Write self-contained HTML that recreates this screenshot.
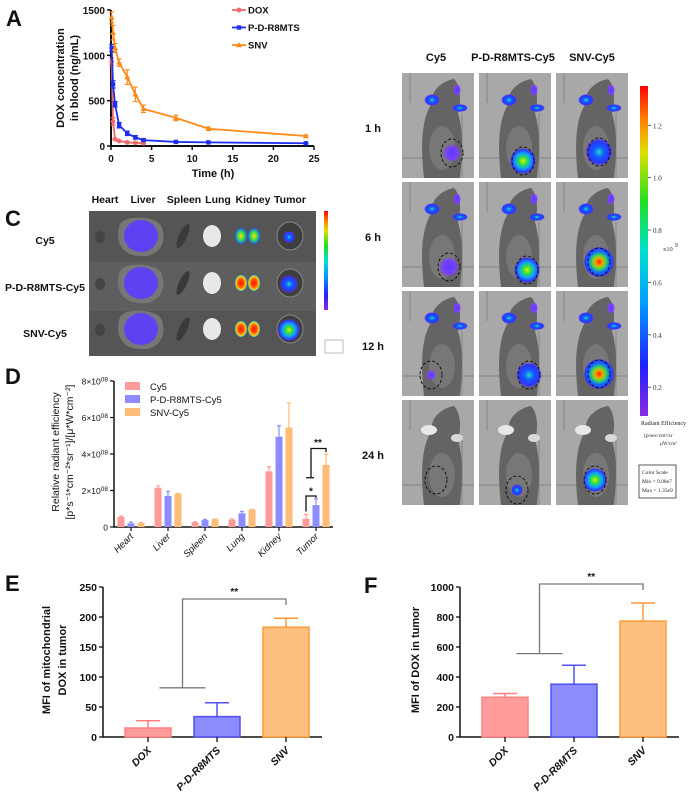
<!DOCTYPE html>
<html><head><meta charset="utf-8"><style>
body{margin:0;background:#fff}
svg{display:block;font-family:"Liberation Sans",Arial,sans-serif}
.t{font-weight:bold;fill:#111}
</style></head><body>
<svg id="fig" width="695" height="797" viewBox="0 0 695 797" xmlns="http://www.w3.org/2000/svg">
<defs>
<radialGradient id="gPur"><stop offset="0" stop-color="#5a3cff"/><stop offset="0.7" stop-color="#7a40ff"/><stop offset="1" stop-color="#8a40ff" stop-opacity="0"/></radialGradient>
<radialGradient id="gBlue"><stop offset="0" stop-color="#20e0c0"/><stop offset="0.35" stop-color="#1060ff"/><stop offset="0.8" stop-color="#3030ff"/><stop offset="1" stop-color="#7040ff" stop-opacity="0"/></radialGradient>
<radialGradient id="gGreen"><stop offset="0" stop-color="#e0f000"/><stop offset="0.3" stop-color="#30e040"/><stop offset="0.6" stop-color="#10a0ff"/><stop offset="0.9" stop-color="#3030ff"/><stop offset="1" stop-color="#7040ff" stop-opacity="0"/></radialGradient>
<radialGradient id="gHot"><stop offset="0" stop-color="#ff2000"/><stop offset="0.25" stop-color="#ffa000"/><stop offset="0.45" stop-color="#40e040"/><stop offset="0.7" stop-color="#1070ff"/><stop offset="0.95" stop-color="#3030ff"/><stop offset="1" stop-color="#7040ff" stop-opacity="0"/></radialGradient>
<radialGradient id="gKid"><stop offset="0" stop-color="#ffe000"/><stop offset="0.5" stop-color="#40e040"/><stop offset="1" stop-color="#1060ff"/></radialGradient>
<radialGradient id="gKid2"><stop offset="0" stop-color="#ff1000"/><stop offset="0.55" stop-color="#ff6000"/><stop offset="0.8" stop-color="#ffd000"/><stop offset="1" stop-color="#20c0ff"/></radialGradient>
<linearGradient id="cbar" x1="0" y1="1" x2="0" y2="0"><stop offset="0" stop-color="#8a2be2"/><stop offset="0.15" stop-color="#2020ff"/><stop offset="0.35" stop-color="#00a0ff"/><stop offset="0.5" stop-color="#00e0d0"/><stop offset="0.65" stop-color="#20e020"/><stop offset="0.8" stop-color="#e0e000"/><stop offset="0.9" stop-color="#ff8000"/><stop offset="1" stop-color="#ff0000"/></linearGradient>
</defs>

<text class="t" x="6" y="26" font-size="22">A</text>
<text class="t" x="508" y="108" font-size="22">B</text>
<text class="t" x="5" y="226" font-size="22">C</text>
<text class="t" x="5" y="384" font-size="22">D</text>
<text class="t" x="5" y="591" font-size="22">E</text>
<text class="t" x="364" y="593" font-size="22">F</text>

<g id="pA"></g>
<g id="pB"></g>
<g id="pC"></g>
<g id="pD"></g>
<g id="pE"></g>
<g id="pF"></g>
</svg>
<script>
// ===== Panel A data =====
const aTimesDox = [0.083, 0.25, 0.5, 1, 2, 3, 4];
const aDox = [930, 270, 75, 55, 40, 35, 30];
const aDoxErr = [40, 40, 10, 8, 6, 5, 5];
const aTimes = [0.083, 0.25, 0.5, 1, 2, 3, 4, 8, 12, 24];
const aPD = [1080, 680, 460, 230, 140, 95, 65, 45, 40, 30];
const aPDErr = [40, 40, 30, 30, 25, 20, 10, 8, 6, 5];
const aSNV = [1420, 1250, 1080, 920, 760, 570, 410, 310, 190, 110];
const aSNVErr = [60, 80, 50, 40, 80, 80, 40, 30, 20, 10];
const aXTicks = [0, 5, 10, 15, 20, 25];
const aYTicks = [0, 500, 1000, 1500];

// ===== Panel D data (x1e8) =====
const dOrgans = ["Heart", "Liver", "Spleen", "Lung", "Kidney", "Tumor"];
const dCy5 = [0.55, 2.15, 0.25, 0.40, 3.05, 0.45];
const dCy5Err = [0.05, 0.10, 0.03, 0.04, 0.25, 0.25];
const dPD = [0.20, 1.70, 0.38, 0.75, 4.95, 1.20];
const dPDErr = [0.07, 0.25, 0.04, 0.10, 0.60, 0.35];
const dSNV = [0.22, 1.82, 0.42, 0.95, 5.45, 3.40];
const dSNVErr = [0.03, 0.03, 0.02, 0.02, 1.35, 0.60];
const dYTicks = [0, 2, 4, 6, 8];

// ===== Panel E / F data =====
const eGroups = ["DOX", "P-D-R8MTS", "SNV"];
const eVals = [15, 34, 183];
const eErr = [12, 23, 15];
const eYTicks = [0, 50, 100, 150, 200, 250];
const fVals = [265, 352, 773];
const fErr = [25, 126, 120];
const fYTicks = [0, 200, 400, 600, 800, 1000];

const NS = "http://www.w3.org/2000/svg";
function mk(tag, attrs, parent){const e=document.createElementNS(NS,tag);for(const k in attrs)e.setAttribute(k,attrs[k]);parent.appendChild(e);return e;}
function txt(s, attrs, parent){const e=mk("text",attrs,parent);e.textContent=s;return e;}

// ===== Panel A =====
(function(){
  const g=document.getElementById("pA");
  const x0=111,x1=314,yb=146,yt=10;
  const X=t=>x0+t*(x1-x0)/25, Y=v=>yb-v*(yb-yt)/1500;
  let ax=mk("path",{d:`M${x0},${yt} V${yb} H${x1}`,stroke:"#111","stroke-width":2,fill:"none"},g);
  
  
  aXTicks.forEach(t=>{
    mk("line",{x1:X(t),x2:X(t),y1:yb,y2:yb+4,stroke:"#111","stroke-width":1.5},g);
    let l=txt(String(t),{x:X(t),y:yb+16,"text-anchor":"middle","font-size":10,class:"t"},g);
    
    
  });
  aYTicks.forEach(v=>{
    mk("line",{x1:x0-4,x2:x0,y1:Y(v),y2:Y(v),stroke:"#111","stroke-width":1.5},g);
    let l=txt(String(v),{x:x0-6,y:Y(v)+4,"text-anchor":"end","font-size":10,class:"t"},g);
    
    
  });
  let xt=txt("Time (h)",{x:213,y:177,"text-anchor":"middle","font-size":11,class:"t"},g);
  
  
  let yt1=txt("DOX concentration",{x:0,y:0,"text-anchor":"middle","font-size":11,class:"t",transform:"translate(64,78) rotate(-90)"},g);
  
  
  let yt2=txt("in blood (ng/mL)",{x:0,y:0,"text-anchor":"middle","font-size":11,class:"t",transform:"translate(78,78) rotate(-90)"},g);
  
  
  const series=[
    {n:"DOX",t:aTimesDox,v:aDox,e:aDoxErr,c:"#f06a6a",m:"circle"},
    {n:"P-D-R8MTS",t:aTimes,v:aPD,e:aPDErr,c:"#1f2ff0",m:"square"},
    {n:"SNV",t:aTimes,v:aSNV,e:aSNVErr,c:"#ff8a1a",m:"tri"}];
  series.forEach((s,si)=>{
    const pts=s.t.map((t,i)=>X(t)+","+Y(s.v[i])).join(" ");
    let ln=mk("polyline",{points:pts,fill:"none",stroke:s.c,"stroke-width":1.8},g);
    
    
    s.t.forEach((t,i)=>{
      const cx=X(t),cy=Y(s.v[i]),e1=Y(s.v[i]+s.e[i]),e2=Y(Math.max(0,s.v[i]-s.e[i]));
      mk("path",{d:`M${cx},${e1}V${e2}M${cx-2.5},${e1}H${cx+2.5}M${cx-2.5},${e2}H${cx+2.5}`,stroke:s.c,"stroke-width":1.2},g);
      let p;
      if(s.m==="circle")p=mk("circle",{cx,cy,r:2.4,fill:s.c},g);
      else if(s.m==="square")p=mk("rect",{x:cx-2.2,y:cy-2.2,width:4.4,height:4.4,fill:s.c},g);
      else p=mk("path",{d:`M${cx},${cy-3}L${cx+3},${cy+2.2}L${cx-3},${cy+2.2}Z`,fill:s.c},g);
      
      
    });
    const ly=10+si*17.5;
    mk("line",{x1:232,x2:246,y1:ly,y2:ly,stroke:s.c,"stroke-width":1.8},g);
    if(s.m==="circle")mk("circle",{cx:239,cy:ly,r:2.4,fill:s.c},g);
    else if(s.m==="square")mk("rect",{x:236.8,y:ly-2.2,width:4.4,height:4.4,fill:s.c},g);
    else mk("path",{d:`M239,${ly-3}L242,${ly+2.2}L236,${ly+2.2}Z`,fill:s.c},g);
    let lt=txt(s.n,{x:248,y:ly+3.5,"font-size":9.5,class:"t"},g);
    
    
  });
})();

// ===== Panel B (imaging photos) =====
(function(){
  const g=document.getElementById("pB");
  const heads=[["Cy5",436],["P-D-R8MTS-Cy5",513],["SNV-Cy5",592]];
  heads.forEach(h=>{let t=txt(h[0],{x:h[1],y:61,"text-anchor":"middle","font-size":11,class:"t"},g);
    
    });
  const rows=[["1 h",73],["6 h",182],["12 h",291],["24 h",400]];
  const cols=[402,479,556];
  const sig=[[["gPur",9],["gGreen",13],["gBlue",14]],
             [["gPur",10],["gGreen",13],["gHot",15]],
             [["gPur",5],["gBlue",13],["gHot",15]],
             [null,["gBlue",6],["gGreen",12]]];
  const tumorPos=[[[452,153],[523,161],[599,152]],[[449,267],[527,270],[599,262]],[[431,375],[529,375],[599,374]],[[436,480],[517,490],[595,480]]];
  rows.forEach((r,ri)=>{
    let rl=txt(r[0],{x:373,y:r[1]+59,"text-anchor":"middle","font-size":11,class:"t"},g);
    
    
    cols.forEach((cx,ci)=>{
      const y=r[1];
      let tile=mk("g",{},g);
      
      
      mk("rect",{x:cx,y:y,width:72,height:105,fill:"#a8a8a8"},tile);
      mk("path",{d:`M${cx+8},${y} V${y+30} M${cx},${y+85} H${cx+72} M${cx+60},${y+40} V${y+105}`,stroke:"#7a7a7a","stroke-width":0.8,fill:"none"},tile);
      mk("path",{d:`M${cx+22},${y+105} C${cx+18},${y+70} ${cx+20},${y+45} ${cx+30},${y+30} C${cx+28},${y+18} ${cx+40},${y+8} ${cx+52},${y+6} C${cx+58},${y+12} ${cx+60},${y+26} ${cx+56},${y+40} C${cx+62},${y+60} ${cx+60},${y+85} ${cx+58},${y+105} Z`,fill:"#646464"},tile);
      mk("ellipse",{cx:cx+40,cy:y+75,rx:13,ry:22,fill:"#8a8a8a",opacity:0.5},tile);
      if(ri<3){
        mk("ellipse",{cx:cx+30,cy:y+27,rx:8,ry:6,fill:"url(#gBlue)"},tile);
        mk("ellipse",{cx:cx+58,cy:y+35,rx:8,ry:4,fill:"url(#gBlue)"},tile);
        mk("ellipse",{cx:cx+55,cy:y+17,rx:4,ry:6,fill:"url(#gPur)"},tile);
      } else {
        mk("ellipse",{cx:cx+27,cy:y+30,rx:8,ry:5,fill:"#e8e8e8"},tile);
        mk("ellipse",{cx:cx+55,cy:y+38,rx:6,ry:4,fill:"#d8d8d8"},tile);
      }
      const tp=tumorPos[ri][ci];
      const s=sig[ri][ci];
      if(s){let b=mk("circle",{cx:tp[0],cy:tp[1],r:s[1],fill:`url(#${s[0]})`},tile);
        
        }
      mk("ellipse",{cx:tp[0],cy:tp[1],rx:11,ry:14,fill:"none",stroke:"#111","stroke-width":1,"stroke-dasharray":"3,2"},tile);
    });
  });
  let cb=mk("rect",{x:640,y:86,width:8,height:330,fill:"url(#cbar)"},g);
  
  
  [0.2,0.4,0.6,0.8,1.0,1.2].forEach(v=>{
    const yy=416-(v-0.09)/(1.35-0.09)*330;
    mk("line",{x1:648,x2:651,y1:yy,y2:yy,stroke:"#333","stroke-width":0.8},g);
    let t=txt(v.toFixed(1),{x:653,y:yy+3,"font-size":7,fill:"#333","font-family":"Liberation Serif"},g);
    
    
  });
  txt("x10",{x:663,y:251,"font-size":6.5,fill:"#333","font-family":"Liberation Serif"},g);
  txt("9",{x:675,y:247,"font-size":5,fill:"#333"},g);
  let re=txt("Radiant Efficiency",{x:641,y:425,"font-size":6,fill:"#222","font-family":"Liberation Serif"},g);
  
  
  txt("(p/sec/cm²/sr",{x:644,y:437,"font-size":5.5,fill:"#222","font-family":"Liberation Serif"},g);
  txt("µW/cm²",{x:660,y:445,"font-size":5,fill:"#222","font-family":"Liberation Serif"},g);
  let box=mk("rect",{x:639,y:465,width:37,height:33,fill:"#fff",stroke:"#333","stroke-width":0.8},g);
  
  
  txt("Color Scale",{x:642,y:474,"font-size":5.5,fill:"#222","font-family":"Liberation Serif"},g);
  txt("Min = 9.08e7",{x:642,y:483,"font-size":5.5,fill:"#222","font-family":"Liberation Serif"},g);
  txt("Max = 1.35e9",{x:642,y:492,"font-size":5.5,fill:"#222","font-family":"Liberation Serif"},g);
})();

// ===== Panel C (organs) =====
(function(){
  const g=document.getElementById("pC");
  const heads=[["Heart",105],["Liver",143],["Spleen",184],["Lung",218],["Kidney",253],["Tumor",290]];
  heads.forEach(h=>{let t=txt(h[0],{x:h[1],y:203,"text-anchor":"middle","font-size":10.5,class:"t"},g);
    
    });
  let bg=mk("rect",{x:89,y:211,width:227,height:145,fill:"#555"},g);
  
  
  mk("rect",{x:89,y:262,width:227,height:49,fill:"#5e5e5e"},g);
  const rows=[["Cy5",236,"gKid","gBlue",6],["P-D-R8MTS-Cy5",283,"gKid2","gBlue",9],["SNV-Cy5",329,"gKid2","gGreen",11]];
  rows.forEach(r=>{
    const cy=r[1];
    let l=txt(r[0],{x:45,y:cy+8,"text-anchor":"middle","font-size":10.5,class:"t"},g);
    
    
    mk("ellipse",{cx:100,cy:cy+1,rx:5,ry:6,fill:"#444"},g);
    mk("path",{d:`M120,${cy-12} C125,${cy-22} 160,${cy-20} 162,${cy-8} C168,${cy+10} 155,${cy+22} 140,${cy+20} C122,${cy+20} 114,${cy+5} 120,${cy-12}Z`,fill:"#777"},g);
    mk("ellipse",{cx:141,cy:cy,rx:17,ry:16,fill:"#5a3cff",opacity:0.9},g);
    mk("ellipse",{cx:183,cy:cy,rx:4,ry:13,fill:"#3a3a3a",transform:`rotate(25 183 ${cy})`},g);
    mk("ellipse",{cx:212,cy:cy,rx:9,ry:11,fill:"#e8e8e8"},g);
    mk("ellipse",{cx:241,cy:cy,rx:6,ry:8,fill:`url(#${r[2]})`},g);
    mk("ellipse",{cx:254,cy:cy,rx:6,ry:8,fill:`url(#${r[2]})`},g);
    mk("ellipse",{cx:290,cy:cy,rx:13,ry:14,fill:"#3e3e3e",stroke:"#888","stroke-width":1},g);
    mk("circle",{cx:289,cy:cy+1,r:r[4],fill:`url(#${r[3]})`},g);
  });
  mk("rect",{x:324,y:211,width:4,height:99,fill:"url(#cbar)"},g);
  mk("rect",{x:325,y:340,width:18,height:13,fill:"#fff",stroke:"#777","stroke-width":0.5},g);
})();

// ===== Panel D =====
(function(){
  const g=document.getElementById("pD");
  const x0=114,x1=333,yb=527,yt=381;
  const Y=v=>yb-v*(yb-yt)/8;
  const centers=dOrgans.map((o,i)=>131+i*37);
  let ax=mk("path",{d:`M${x0},${yt} V${yb} H${x1}`,stroke:"#111","stroke-width":1.5,fill:"none"},g);
  
  
  dYTicks.forEach(v=>{
    mk("line",{x1:x0-4,x2:x0,y1:Y(v),y2:Y(v),stroke:"#111","stroke-width":1.2},g);
    let l=txt("",{x:x0-6,y:Y(v)+3.5,"text-anchor":"end","font-size":8.5,fill:"#111"},g);
    if(v===0){l.textContent="0";}
    else{const a=document.createElementNS(NS,"tspan");a.textContent=v+"×10";l.appendChild(a);
      const b=document.createElementNS(NS,"tspan");b.setAttribute("dy","-3");b.setAttribute("font-size","6.5");b.textContent="08";l.appendChild(b);}
    
    
  });
  let t1=txt("Relative radiant efficiency",{x:0,y:0,"text-anchor":"middle","font-size":10.5,fill:"#111",transform:"translate(59,452) rotate(-90)"},g);
  
  
  let t2=txt("[p*s⁻¹*cm⁻²*sr⁻¹]/[μ*W*cm⁻²]",{x:0,y:0,"text-anchor":"middle","font-size":10.5,fill:"#111",transform:"translate(73,452) rotate(-90)"},g);
  
  
  const ser=[{n:"Cy5",v:dCy5,e:dCy5Err,c:"#ff9a9a",o:-10},{n:"P-D-R8MTS-Cy5",v:dPD,e:dPDErr,c:"#8c8cff",o:0},{n:"SNV-Cy5",v:dSNV,e:dSNVErr,c:"#ffbb78",o:10}];
  ser.forEach((s,si)=>{
    dOrgans.forEach((o,i)=>{
      const cx=centers[i]+s.o, top=Y(s.v[i]), et=Y(s.v[i]+s.e[i]);
      mk("path",{d:`M${cx},${top}V${et}M${cx-2},${et}H${cx+2}`,stroke:s.c,"stroke-width":1.2},g);
      let b=mk("rect",{x:cx-3.5,y:top,width:7,height:yb-top,fill:s.c},g);
      
      
    });
    const ly=387+si*13;
    mk("rect",{x:125,y:ly-5,width:15,height:8,fill:s.c},g);
    let lt=txt(s.n,{x:150,y:ly+3,"font-size":9.5,fill:"#111"},g);
    
    
  });
  dOrgans.forEach((o,i)=>{
    mk("line",{x1:centers[i],x2:centers[i],y1:yb,y2:yb+4,stroke:"#111","stroke-width":1.2},g);
    let l=txt(o,{x:0,y:0,"text-anchor":"end","font-size":9.5,"font-style":"italic",fill:"#111",transform:`translate(${centers[i]+3},${yb+10}) rotate(-45)`},g);
    
    
  });
  const tc=centers[5];
  mk("path",{d:`M${tc-10},${Y(0.85)} V${Y(1.7)} H${tc} V${Y(1.6)}`,stroke:"#111","stroke-width":1.3,fill:"none"},g);
  txt("*",{x:tc-5,y:Y(1.78),"text-anchor":"middle","font-size":10,class:"t"},g);
  mk("path",{d:`M${tc-10},${Y(2.7)} H${tc-2} M${tc-5},${Y(2.7)} V${Y(4.3)} H${tc+10} V${Y(4.1)}`,stroke:"#111","stroke-width":1.3,fill:"none"},g);
  txt("**",{x:tc+2,y:Y(4.45),"text-anchor":"middle","font-size":10,class:"t"},g);
})();

// ===== Panels E & F =====
function barPanel(id,prefix,x0,vals,errs,ticks,ymax,title,titleX,sigY,sigTop){
  const g=document.getElementById(id);
  const yb=737, yt=yb-150;
  const Y=v=>yb-v*(yb-yt)/ymax;
  const centers=eGroups.map((n,i)=>x0+45+i*69);
  const xEnd=centers[2]+36;
  let ax=mk("path",{d:`M${x0},${Y(ymax)} V${yb} H${xEnd}`,stroke:"#111","stroke-width":1.5,fill:"none"},g);
  
  
  ticks.forEach(v=>{
    mk("line",{x1:x0-4,x2:x0,y1:Y(v),y2:Y(v),stroke:"#111","stroke-width":1.3},g);
    let l=txt(String(v),{x:x0-6,y:Y(v)+4,"text-anchor":"end","font-size":10.5,class:"t"},g);
    
    
  });
  title.forEach((tl,k)=>{
    let t=txt(tl,{x:0,y:0,"text-anchor":"middle","font-size":11,class:"t",transform:`translate(${titleX+k*16},660) rotate(-90)`},g);
    
    
  });
  const fills=["#ff9d9d","#8c8cff","#ffbf7f"], strokes=["#ff8080","#5050f0","#ff9a3a"];
  eGroups.forEach((n,i)=>{
    const cx=centers[i], top=Y(vals[i]), et=Y(vals[i]+errs[i]);
    mk("path",{d:`M${cx},${top}V${et}M${cx-12},${et}H${cx+12}`,stroke:strokes[i],"stroke-width":1.5},g);
    let b=mk("rect",{x:cx-23,y:top,width:46,height:yb-top,fill:fills[i],stroke:strokes[i],"stroke-width":1.5},g);
    
    
    mk("line",{x1:cx,x2:cx,y1:yb,y2:yb+5,stroke:"#111","stroke-width":1.3},g);
    let l=txt(n,{x:0,y:0,"text-anchor":"end","font-size":10.5,class:"t","font-style":"italic",transform:`translate(${cx+4},${yb+14}) rotate(-45)`},g);
    
    
  });
  const mid=(centers[0]+centers[1])/2;
  let s=mk("path",{d:`M${mid-23},${Y(sigY)} H${mid+23} M${mid},${Y(sigY)} V${Y(sigTop)} H${centers[2]} V${Y(sigTop)+6}`,stroke:"#777","stroke-width":1.3,fill:"none"},g);
  
  
  let st=txt("**",{x:(mid+centers[2])/2,y:Y(sigTop)-4,"text-anchor":"middle","font-size":10,class:"t"},g);
  
  
}
barPanel("pE","e",103,eVals,eErr,eYTicks,250,["MFI of mitochondrial","DOX in tumor"],50,82,230);
barPanel("pF","f",460,fVals,fErr,fYTicks,1000,["MFI of DOX in tumor"],419,556,1020);
</script>
</body></html>
